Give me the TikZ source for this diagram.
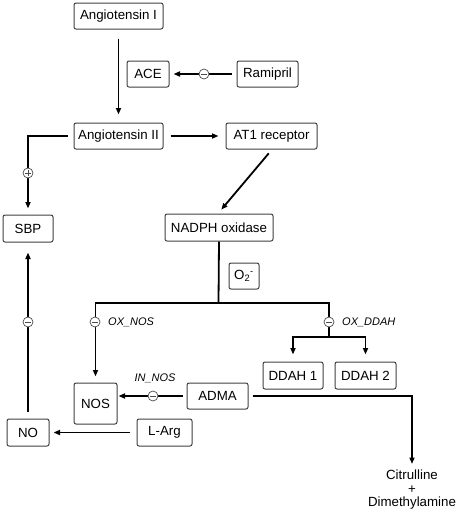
\documentclass[tikz,border=0pt]{standalone}
\usepackage{fontspec}
\setmainfont{Liberation Sans}
\usetikzlibrary{arrows.meta,calc}
\tikzset{
  box/.style={draw=black!75, line width=1pt, rounded corners=2pt, fill=white,
    font=\fontsize{13.3}{15}\selectfont, inner sep=0pt, anchor=center},
  conn/.style={line width=1.8pt, line cap=butt},
  arr/.style={conn, -{Triangle[length=6.5pt,width=5pt]}},
  inhib/.style={circle, draw=black!70, line width=0.7pt, fill=white, minimum size=10pt, inner sep=0pt,
    path picture={\draw[line width=1pt] ([xshift=-3pt]path picture bounding box.center) -- ([xshift=3pt]path picture bounding box.center);}},
  activ/.style={circle, draw=black!70, line width=0.7pt, fill=white, minimum size=10pt, inner sep=0pt,
    path picture={\draw[line width=0.8pt] ([xshift=-3pt]path picture bounding box.center) -- ([xshift=3pt]path picture bounding box.center)
      ([yshift=-3pt]path picture bounding box.center) -- ([yshift=3pt]path picture bounding box.center);}},
  lbl/.style={font=\fontsize{11}{13}\selectfont\itshape, inner sep=0pt},
  plain/.style={font=\fontsize{13.3}{13.3}\selectfont, align=center, inner sep=0pt}
}
\begin{document}
\begin{tikzpicture}[x=1pt,y=-1pt]
\useasboundingbox (0,0) rectangle (459,515);
% boxes
\node[box, minimum width=89pt, minimum height=26pt] (a1) at (118.5,16) {Angiotensin I};
\node[box, minimum width=42pt, minimum height=26pt] (ace) at (148,74) {ACE};
\node[box, minimum width=61pt, minimum height=26pt] (ram) at (267.5,74) {Ramipril};
\node[box, minimum width=89pt, minimum height=26pt] (a2) at (118.5,136) {Angiotensin II};
\node[box, minimum width=91pt, minimum height=26pt] (at1) at (271.5,136) {AT1 receptor};
\node[box, minimum width=50pt, minimum height=27pt] (sbp) at (28,228.5) {SBP};
\node[box, minimum width=108pt, minimum height=27pt] (nadph) at (219,227.5) {NADPH oxidase};
\node[box, minimum width=30pt, minimum height=26pt] (o2) at (244,276) {O\textsubscript{2}\textsuperscript{-}};
\node[box, minimum width=60pt, minimum height=27pt] (dd1) at (293,375.5) {DDAH 1};
\node[box, minimum width=61pt, minimum height=27pt] (dd2) at (365.5,375.5) {DDAH 2};
\node[box, minimum width=43pt, minimum height=41pt] (nos) at (95.5,403.5) {NOS};
\node[box, minimum width=61pt, minimum height=26pt] (adma) at (217.5,396) {ADMA};
\node[box, minimum width=42pt, minimum height=27pt] (no) at (28,432.5) {NO};
\node[box, minimum width=55pt, minimum height=27pt] (larg) at (164.5,432.5) {L-Arg};
\node[plain, anchor=north] (cit) at (412,470) {Citrulline\\+\\Dimethylamine};
% junction coordinates
\coordinate (jn) at (218.5,303);
\coordinate (dd) at (329,337);
% connectors
\draw[arr, shorten <=9pt, shorten >=8pt] (a1.south) -- (a2.north);
\draw[arr, shorten <=5pt, shorten >=4pt] (ram.west) -- (ace.east);
\node[inhib] (c1) at (204,74) {};
\draw[arr, shorten <=7pt, shorten >=7pt] (a2.east) -- (at1.west);
\draw[arr, shorten <=6pt, shorten >=6pt] (a2.west) -| (sbp.north);
\node[activ] (c2) at (28,173) {};
\draw[arr, shorten <=5pt, shorten >=5pt] ([xshift=0.5pt]at1.south) -- ([xshift=-1pt]nadph.north);
\draw[conn] (nadph.south) -- (jn);
\draw[arr, shorten >=6pt] (jn) -| (nos.north);
\draw[conn] (jn) -| (dd);
\draw[arr, shorten >=7pt] (dd) -| (dd1.north);
\draw[arr, shorten >=7pt] (dd) -| (dd2.north);
\node[inhib] (c3) at (95,322) {};
\node[inhib] (c4) at (329,322) {};
\node[lbl, anchor=west] (l1) at (108,322) {OX\_NOS};
\node[lbl, anchor=west] (l2) at (342,322) {OX\_DDAH};
\draw[arr, shorten <=4pt, shorten >=1pt] (adma.west) -- (adma.west -| nos.east);
\node[inhib] (c5) at (153,396) {};
\node[lbl] (l3) at (155,378) {IN\_NOS};
\draw[arr, shorten <=4pt, shorten >=6pt] (adma.east) -| (cit.north);
\draw[arr, shorten <=7pt, shorten >=4pt] (larg.west) -- (larg.west -| no.east);
\draw[arr, shorten <=7pt, shorten >=10pt] (no.north) -- (sbp.south);
\node[inhib] (c6) at (28,322) {};
\end{tikzpicture}
\end{document}
